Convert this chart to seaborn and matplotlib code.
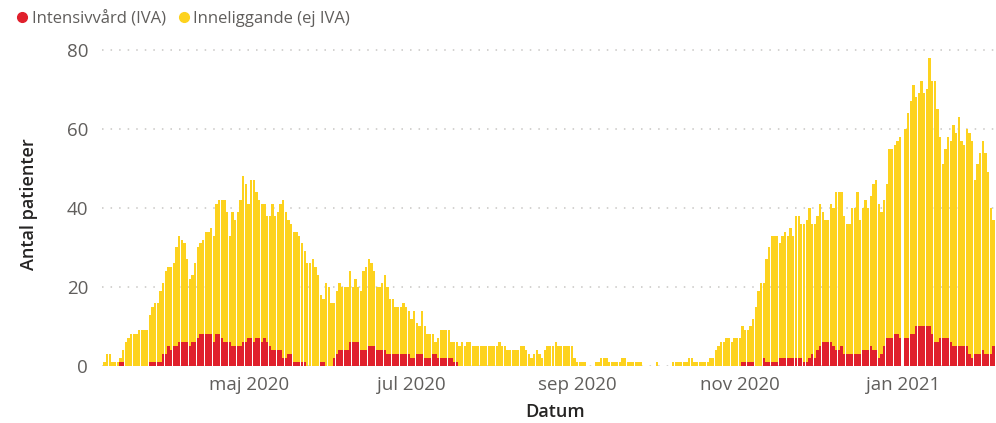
import numpy as np
import pandas as pd
import matplotlib
matplotlib.use('Agg')
import matplotlib.pyplot as plt
from matplotlib.lines import Line2D
import seaborn as sns

# --- Data (daily; first day 2020-03-08) ---
START_DATE = "2020-03-08"

# height of the stacked column (IVA + ej IVA)
totalt = [
    1, 3, 3, 1, 1, 1, 2, 4, 6, 7,
    8, 8, 8, 9, 9, 9, 9, 13, 15, 16,
    16, 19, 21, 24, 25, 25, 26, 30, 33, 32,
    31, 27, 22, 23, 26, 30, 31, 32, 34, 34,
    35, 33, 41, 42, 42, 42, 39, 33, 39, 37,
    39, 42, 48, 46, 41, 47, 47, 44, 42, 41,
    41, 38, 38, 41, 38, 39, 41, 42, 39, 37,
    36, 34, 34, 33, 31, 29, 26, 26, 27, 25,
    23, 18, 17, 21, 20, 16, 16, 19, 21, 20,
    20, 20, 24, 20, 22, 20, 19, 24, 25, 27,
    26, 24, 20, 20, 21, 23, 20, 17, 17, 15,
    15, 15, 16, 15, 14, 12, 14, 11, 10, 14,
    10, 8, 8, 8, 6, 7, 9, 9, 9, 9,
    6, 6, 6, 5, 6, 5, 6, 6, 5, 5,
    5, 5, 5, 5, 5, 5, 5, 5, 6, 5,
    5, 4, 4, 4, 4, 4, 5, 5, 4, 3,
    2, 3, 4, 3, 2, 4, 5, 5, 5, 6,
    5, 5, 5, 5, 5, 5, 2, 1, 1, 1,
    1, 0, 0, 0, 1, 1, 2, 2, 2, 1,
    1, 1, 1, 1, 2, 2, 1, 1, 1, 1,
    1, 1, 0, 0, 0, 0, 0, 1, 0, 0,
    0, 0, 0, 1, 1, 1, 1, 1, 1, 2,
    2, 1, 1, 1, 1, 1, 1, 2, 2, 4,
    5, 6, 6, 7, 7, 6, 7, 7, 7, 10,
    9, 9, 10, 12, 15, 19, 21, 21, 27, 30,
    33, 33, 33, 31, 33, 34, 33, 35, 33, 38,
    38, 36, 36, 37, 40, 36, 36, 38, 41, 39,
    37, 37, 41, 40, 44, 44, 44, 38, 36, 36,
    40, 40, 44, 37, 40, 42, 40, 43, 46, 47,
    41, 39, 42, 46, 55, 55, 56, 57, 58, 0,
    60, 64, 67, 71, 68, 69, 72, 69, 70, 78,
    72, 72, 65, 58, 51, 55, 58, 57, 61, 59,
    63, 57, 56, 60, 59, 57, 47, 51, 54, 57,
    54, 49, 40, 37,
]

# Intensivvård (IVA), bottom segment
iva = [
    0, 0, 0, 0, 0, 0, 1, 1, 0, 0,
    0, 0, 0, 0, 0, 0, 0, 1, 1, 1,
    1, 1, 3, 3, 5, 4, 5, 5, 6, 6,
    6, 6, 5, 6, 6, 7, 8, 8, 8, 8,
    8, 6, 8, 8, 7, 6, 6, 6, 5, 5,
    5, 5, 6, 6, 7, 7, 6, 7, 7, 6,
    7, 6, 5, 4, 4, 4, 4, 2, 2, 3,
    3, 1, 1, 1, 1, 1, 0, 0, 0, 0,
    0, 1, 1, 0, 0, 0, 2, 3, 4, 4,
    4, 4, 6, 6, 6, 6, 4, 4, 4, 5,
    5, 5, 4, 4, 4, 4, 3, 3, 3, 3,
    3, 3, 3, 3, 3, 2, 2, 3, 3, 3,
    2, 2, 2, 3, 3, 2, 2, 2, 2, 2,
    2, 1, 1, 0, 0, 0, 0, 0, 0, 0,
    0, 0, 0, 0, 0, 0, 0, 0, 0, 0,
    0, 0, 0, 0, 0, 0, 0, 0, 0, 0,
    0, 0, 0, 0, 0, 0, 0, 0, 0, 0,
    0, 0, 0, 0, 0, 0, 0, 0, 0, 0,
    0, 0, 0, 0, 0, 0, 0, 0, 0, 0,
    0, 0, 0, 0, 0, 0, 0, 0, 0, 0,
    0, 0, 0, 0, 0, 0, 0, 0, 0, 0,
    0, 0, 0, 0, 0, 0, 0, 0, 0, 0,
    0, 0, 0, 0, 0, 0, 0, 0, 0, 0,
    0, 0, 0, 0, 0, 0, 0, 0, 0, 1,
    1, 1, 1, 1, 0, 0, 0, 2, 1, 1,
    1, 1, 1, 2, 2, 2, 2, 2, 2, 2,
    2, 2, 1, 1, 2, 3, 2, 4, 5, 6,
    6, 6, 6, 5, 4, 4, 5, 3, 3, 3,
    3, 3, 3, 3, 4, 4, 4, 5, 4, 4,
    2, 3, 5, 7, 7, 7, 8, 8, 7, 0,
    7, 7, 8, 8, 10, 10, 10, 10, 10, 10,
    8, 6, 6, 7, 7, 7, 7, 6, 5, 5,
    5, 5, 5, 5, 3, 2, 3, 3, 3, 4,
    3, 3, 3, 5,
]

tick_dates = ["2020-05-01", "2020-07-01", "2020-09-01", "2020-11-01", "2021-01-01"]
tick_labels = ["maj 2020", "jul 2020", "sep 2020", "nov 2020", "jan 2021"]
y_ticks = [0, 20, 40, 60, 80]

series_labels = ["Intensivvård (IVA)", "Inneliggande (ej IVA)"]

# --- Style ---
RED = "#E0202C"
YELLOW = "#FDD21E"
GRID = "#C8C6C4"
TICK_TXT = "#605E5C"
TITLE_TXT = "#252423"

sns.set_theme(style="white")
plt.rcParams['font.family'] = ['Open Sans', 'DejaVu Sans']

dates = pd.date_range(START_DATE, periods=len(totalt), freq="D")
df = pd.DataFrame({"dag": np.arange(len(totalt)), "datum": dates,
                   "totalt": totalt, "iva": iva})

fig = plt.figure(figsize=(9.96, 4.23), dpi=100)
ax = fig.add_axes([0.1024, 0.1348, 0.8976, 0.766])

# stacked look: full column in yellow, IVA drawn over the bottom in red
sns.barplot(data=df, x="dag", y="totalt", native_scale=True, color=YELLOW,
            saturation=1, width=0.87, errorbar=None, linewidth=0, ax=ax)
sns.barplot(data=df, x="dag", y="iva", native_scale=True, color=RED,
            saturation=1, width=0.87, errorbar=None, linewidth=0, ax=ax)

ax.set_xlim(-0.9, 333.9)
ax.set_ylim(0, 82)

tick_pos = [int(np.where(dates == pd.Timestamp(d))[0][0]) for d in tick_dates]
ax.set_xticks(tick_pos)
ax.set_xticklabels(tick_labels)
ax.set_yticks(y_ticks)
ax.tick_params(axis='both', length=0, labelsize=13.5, labelcolor=TICK_TXT)
ax.tick_params(axis='x', pad=7)
ax.tick_params(axis='y', pad=10)

ax.yaxis.grid(True, color=GRID, linewidth=1.1, linestyle=(0, (1, 4.6)))
ax.xaxis.grid(False)
ax.set_axisbelow(True)
sns.despine(ax=ax, left=True, bottom=True)

ax.set_xlabel("Datum", fontsize=13, color=TITLE_TXT, fontweight='semibold')
ax.set_ylabel("Antal patienter", fontsize=13, color=TITLE_TXT, fontweight='semibold')
ax.xaxis.set_label_coords(0.507, -0.115)
ax.yaxis.set_label_coords(-0.072, 0.5)

handles = [Line2D([], [], marker='o', linestyle='none', markersize=7, color=RED),
           Line2D([], [], marker='o', linestyle='none', markersize=7, color=YELLOW)]
fig.legend(handles, series_labels, loc='upper left', bbox_to_anchor=(-0.001, 1.01),
           ncol=2, frameon=False, fontsize=12, handletextpad=0.05,
           columnspacing=0.6, handlelength=1.0, labelcolor=TICK_TXT)

fig.savefig("out.png", dpi=100)
plt.close(fig)
